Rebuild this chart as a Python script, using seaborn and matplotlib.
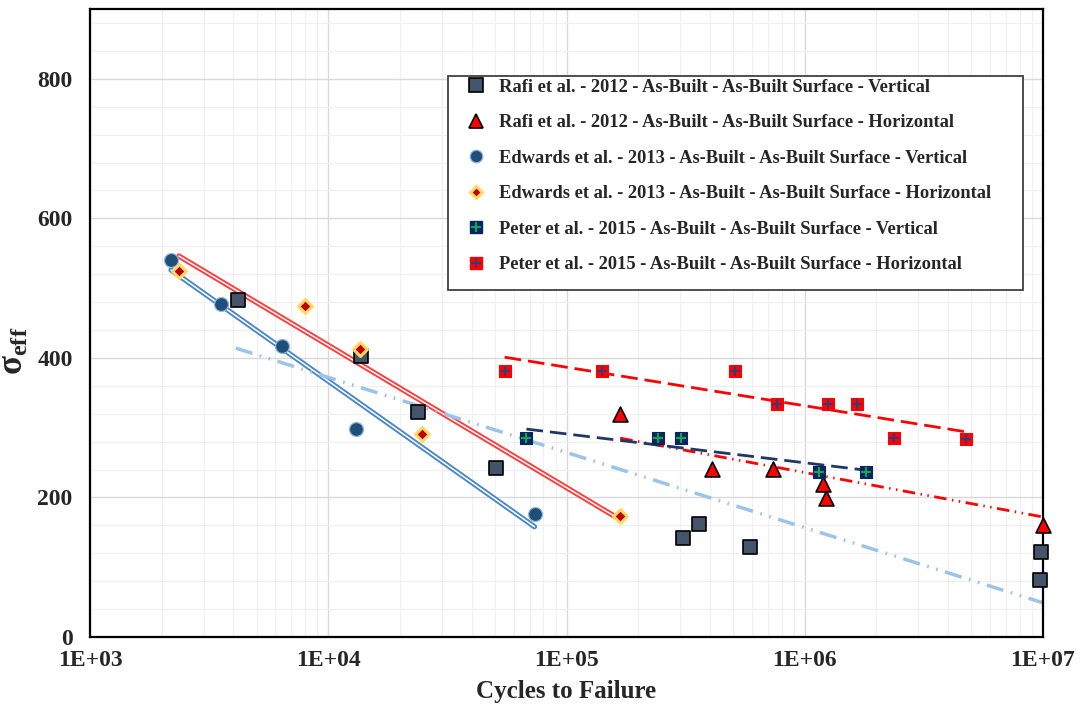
import numpy as np
import pandas as pd
import seaborn as sns
import matplotlib.pyplot as plt
from matplotlib.lines import Line2D
from matplotlib.patches import Rectangle
from matplotlib.ticker import FixedLocator, MultipleLocator, LogLocator, NullFormatter, FuncFormatter

# data (cycles, effective stress)
rafi_v_N = [4175, 13690, 23700, 50400, 309000, 361000, 590000, 9.8e6, 9.7e6]
rafi_v_S = [483, 403, 323, 242, 142, 162, 129, 122, 82]

rafi_h_N = [168000, 409000, 738000, 1.197e6, 1.23e6, 1.0e7]
rafi_h_S = [320, 241, 241, 219, 199, 161]

edw_v_N = [2187, 3540, 6380, 13030, 73400]
edw_v_S = [540, 477, 417, 298, 176]

edw_h_N = [2360, 7960, 13560, 24650, 168400]
edw_h_S = [525, 475, 413, 291, 173]

pet_v_N = [67900, 243000, 303000, 1.15e6, 1.81e6]
pet_v_S = [285, 285, 285, 237, 237]

pet_h_N = [55000, 141500, 512000, 767000, 1.256e6, 1.657e6, 2.37e6, 4.75e6]
pet_h_S = [381, 381, 381, 334, 334, 334, 285, 284]

# trend line end points
fit_edw_v_N, fit_edw_v_S = [2187, 73400], [526, 158]
fit_edw_h_N, fit_edw_h_S = [2360, 168400], [546, 168]
fit_rafi_v_N, fit_rafi_v_S = [4090, 1.0e7], [414, 49]
fit_rafi_h_N, fit_rafi_h_S = [168000, 1.0e7], [285, 172]
fit_pet_v_N, fit_pet_v_S = [67900, 1.81e6], [298, 239]
fit_pet_h_N, fit_pet_h_S = [55000, 4.75e6], [401, 294]

labels = [
    "Rafi et al. - 2012 - As-Built - As-Built Surface - Vertical",
    "Rafi et al. - 2012 - As-Built - As-Built Surface - Horizontal",
    "Edwards et al. - 2013 - As-Built - As-Built Surface - Vertical",
    "Edwards et al. - 2013 - As-Built - As-Built Surface - Horizontal",
    "Peter et al. - 2015 - As-Built - As-Built Surface - Vertical",
    "Peter et al. - 2015 - As-Built - As-Built Surface - Horizontal",
]

sns.set_style("white")
plt.rcParams["font.family"] = ["Liberation Serif", "DejaVu Serif"]
plt.rcParams["font.weight"] = "bold"
plt.rcParams["mathtext.fontset"] = "custom"
plt.rcParams["mathtext.rm"] = "Liberation Serif:bold"
plt.rcParams["mathtext.it"] = "Liberation Serif:bold"
plt.rcParams["mathtext.bf"] = "Liberation Serif:bold"

fig = plt.figure(figsize=(10.8, 7.13), dpi=100)
ax = fig.add_axes([90 / 1080, 76 / 713, 953 / 1080, 628 / 713])
ax.set_xscale("log")

# trend lines
def trend(N, S, color, lw, ls):
    sns.lineplot(x=N, y=S, ax=ax, color=color, lw=lw, linestyle=ls,
                 estimator=None, sort=False, legend=False, zorder=2)

trend(fit_edw_v_N, fit_edw_v_S, "#4A86C8", 3.8, "-")
trend(fit_edw_v_N, fit_edw_v_S, "white", 1.1, "-")
trend(fit_edw_h_N, fit_edw_h_S, "#FF3B3B", 3.8, "-")
trend(fit_edw_h_N, fit_edw_h_S, "white", 1.1, "-")
trend(fit_rafi_v_N, fit_rafi_v_S, "#9DC3E6", 2.5, (0, (5, 2.2, 0.5, 2.2, 0.5, 2.2)))
trend(fit_rafi_h_N, fit_rafi_h_S, "#FF0000", 2.0, (0, (4.5, 2, 0.5, 2, 0.5, 2)))
trend(fit_pet_v_N, fit_pet_v_S, "#1F3864", 2.0, (0, (6, 2.5)))
trend(fit_pet_h_N, fit_pet_h_S, "#FF0000", 2.0, (0, (6, 2.5)))

# data points
pts = dict(ax=ax, clip_on=False, legend=False)
sns.scatterplot(x=rafi_v_N, y=rafi_v_S, marker="s", s=115, color="#44546A",
                edgecolor="black", linewidth=1.2, zorder=3, **pts)
sns.scatterplot(x=rafi_h_N, y=rafi_h_S, marker="^", s=115, color="#FF0000",
                edgecolor="black", linewidth=1.2, zorder=3, **pts)
sns.scatterplot(x=edw_v_N, y=edw_v_S, marker="o", s=100, color="#1F4E79",
                edgecolor="#8DB3DE", linewidth=0.9, zorder=3, **pts)
sns.scatterplot(x=edw_h_N, y=edw_h_S, marker="D", s=50, color="#C00000",
                edgecolor="#FFD966", linewidth=2.2, zorder=3, **pts)
sns.scatterplot(x=pet_v_N, y=pet_v_S, marker="s", s=75, color="#0B2560",
                edgecolor="#0B2560", linewidth=0.8, zorder=3, **pts)
sns.scatterplot(x=pet_v_N, y=pet_v_S, marker="+", s=55, color="#00B050",
                linewidth=1.4, zorder=3.1, **pts)
sns.scatterplot(x=pet_h_N, y=pet_h_S, marker="s", s=75, color="#FF0000",
                edgecolor="#FF0000", linewidth=0.8, zorder=3, **pts)
sns.scatterplot(x=pet_h_N, y=pet_h_S, marker="+", s=55, color="#2F3D7A",
                linewidth=1.4, zorder=3.1, **pts)

# axes
ax.set_xlim(1e3, 1e7)
ax.set_ylim(0, 900)
ax.xaxis.set_major_locator(FixedLocator([1e3, 1e4, 1e5, 1e6, 1e7]))
ax.xaxis.set_minor_locator(LogLocator(base=10, subs=np.arange(2, 10)))
ax.xaxis.set_minor_formatter(NullFormatter())
ax.xaxis.set_major_formatter(FuncFormatter(lambda v, p: "1E+%02d" % round(np.log10(v))))
ax.yaxis.set_major_locator(FixedLocator([0, 200, 400, 600, 800]))
ax.yaxis.set_minor_locator(MultipleLocator(40))

ax.set_axisbelow(True)
ax.grid(which="major", color="#D9D9D9", lw=1.0)
ax.grid(which="minor", color="#F0F0F0", lw=0.9)
for sp in ax.spines.values():
    sp.set_color("black")
    sp.set_linewidth(1.6)
    sp.set_visible(True)

ax.tick_params(which="major", direction="inout", length=9, width=1.2, labelsize=17, color="black")
ax.tick_params(which="minor", direction="in", length=4.5, width=1.0, color="black")
ax.tick_params(axis="x", which="major", pad=5)
ax.tick_params(axis="y", which="major", pad=8)
for t in ax.get_xticklabels() + ax.get_yticklabels():
    t.set_fontweight("bold")

ax.set_xlabel("Cycles to Failure", fontsize=18, fontweight="bold")
ax.xaxis.set_label_coords(0.5, -0.068)
ax.set_ylabel("σ$_{\\rm eff}$", fontsize=25, fontweight="bold")
ax.yaxis.set_label_coords(-0.062, 0.455)

# legend with hand drawn frame
handles = [
    Line2D([], [], ls="", marker="s", ms=10, mfc="#44546A", mec="black", mew=1.2),
    Line2D([], [], ls="", marker="^", ms=10, mfc="#FF0000", mec="black", mew=1.2),
    Line2D([], [], ls="", marker="o", ms=9, mfc="#1F4E79", mec="#8DB3DE", mew=0.9),
    Line2D([], [], ls="", marker="D", ms=6.5, mfc="#C00000", mec="#FFD966", mew=2.2),
    (Line2D([], [], ls="", marker="s", ms=8.5, mfc="#0B2560", mec="#0B2560"),
     Line2D([], [], ls="", marker="+", ms=7.5, mec="#00B050", mew=1.4)),
    (Line2D([], [], ls="", marker="s", ms=8.5, mfc="#FF0000", mec="#FF0000"),
     Line2D([], [], ls="", marker="+", ms=7.5, mec="#2F3D7A", mew=1.4)),
]
ax.add_patch(Rectangle((0.3757, 0.5525), 0.6034, 0.3408, transform=ax.transAxes,
                       facecolor="white", edgecolor="#404040", lw=1.3, zorder=4.5))
leg = ax.legend(handles, labels, loc="upper left", bbox_to_anchor=(0.391, 0.889),
                frameon=False, borderpad=0, borderaxespad=0,
                handlelength=1.4, handletextpad=0.55, labelspacing=1.0,
                prop={"weight": "bold", "size": 13.3})
leg.set_zorder(5)

fig.savefig("out.png", dpi=100)
